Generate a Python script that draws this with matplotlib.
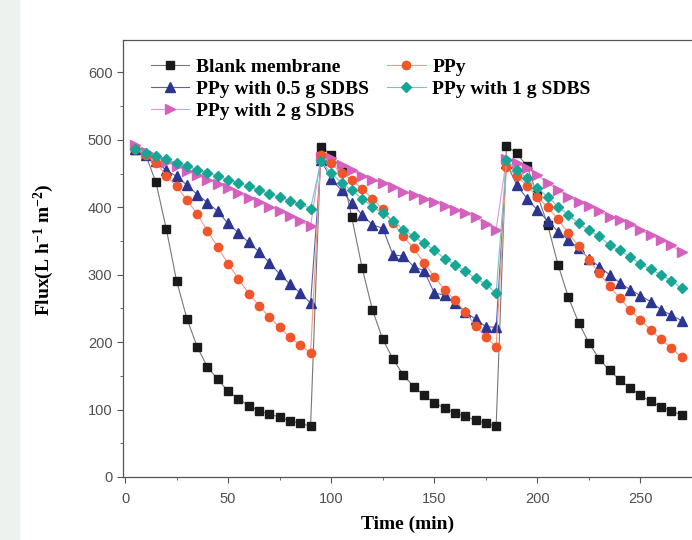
import numpy as np
import matplotlib
matplotlib.use('Agg')
import matplotlib.pyplot as plt
from matplotlib.patches import Rectangle

plt.rcParams['mathtext.default'] = 'regular'

# time axis: three filtration cycles, one reading every 5 min
time_min = [5, 10, 15, 20, 25, 30, 35, 40, 45, 50, 55, 60, 65, 70, 75, 80, 85, 90,
            95, 100, 105, 110, 115, 120, 125, 130, 135, 140, 145, 150, 155, 160, 165, 170, 175, 180,
            185, 190, 195, 200, 205, 210, 215, 220, 225, 230, 235, 240, 245, 250, 255, 260, 265, 270]

blank = [485, 478, 437, 368, 291, 235, 193, 163, 145, 127, 116, 106, 98, 93, 89, 83, 80, 75,
         490, 478, 455, 385, 310, 248, 204, 175, 151, 134, 121, 110, 102, 95, 90, 84, 80, 75,
         491, 480, 461, 418, 374, 315, 267, 229, 199, 175, 158, 144, 132, 121, 112, 104, 98, 92]

ppy = [486, 478, 466, 447, 431, 411, 390, 365, 341, 316, 294, 272, 254, 237, 222, 207, 196, 184,
       478, 465, 451, 441, 427, 413, 397, 377, 357, 339, 318, 297, 278, 262, 245, 224, 208, 193,
       460, 446, 432, 416, 400, 382, 362, 342, 322, 302, 283, 265, 248, 233, 218, 204, 191, 178]

sdbs_05 = [486, 478, 468, 455, 446, 433, 419, 407, 394, 376, 362, 348, 334, 318, 301, 286, 273, 258,
           470, 442, 425, 406, 389, 374, 369, 329, 328, 312, 306, 273, 270, 258, 245, 234, 223, 222,
           466, 433, 413, 396, 380, 364, 352, 339, 324, 312, 300, 288, 278, 269, 260, 248, 240, 232]

sdbs_1 = [487, 481, 476, 471, 466, 461, 456, 451, 446, 441, 436, 431, 426, 420, 415, 410, 405, 398,
          468, 451, 436, 425, 413, 401, 391, 380, 367, 357, 347, 336, 324, 315, 305, 295, 286, 273,
          470, 456, 443, 428, 416, 401, 389, 376, 366, 357, 344, 336, 326, 316, 308, 300, 291, 280]

sdbs_2 = [492, 482, 474, 467, 461, 454, 448, 441, 435, 428, 421, 414, 408, 401, 394, 387, 379, 372,
          475, 473, 463, 455, 446, 441, 436, 430, 423, 418, 413, 408, 402, 396, 391, 385, 375, 367,
          472, 465, 458, 448, 436, 426, 416, 408, 402, 394, 386, 381, 375, 366, 359, 352, 344, 333]

labels = ["Blank membrane", "PPy with 0.5 g SDBS", "PPy with 2 g SDBS", "PPy", "PPy with 1 g SDBS"]
series = [blank, sdbs_05, sdbs_2, ppy, sdbs_1]
colors = ["#1a1a1a", "#2c3590", "#d660bd", "#f0562a", "#17a596"]
line_colors = ["#777777", "#5a63b0", "#e39ad6", "#f49a80", "#6cc9c0"]
markers = ["s", "^", ">", "o", "D"]
msizes = [5.5, 6.5, 6.5, 6, 5]

fig = plt.figure(figsize=(6.92, 5.40), dpi=100)
fig.patches.append(Rectangle((0, 0), 0.028, 1, transform=fig.transFigure,
                             color="#eef2ee", zorder=-1))
ax = fig.add_axes([0.1777, 0.1167, 0.8223, 0.809])

for y, lab, c, lc, m, ms in zip(series, labels, colors, line_colors, markers, msizes):
    ax.plot(time_min, y, color=lc, lw=0.8, marker=m, ms=ms,
            markerfacecolor=c, markeredgecolor=c, label=lab)

ax.set_xlim(-1, 275)
ax.set_ylim(0, 648)
ax.set_xticks([0, 50, 100, 150, 200, 250])
ax.set_xticks(np.arange(25, 275, 50), minor=True)
ax.set_yticks(np.arange(0, 601, 100))
ax.set_yticks(np.arange(50, 601, 100), minor=True)
ax.tick_params(which='both', direction='out', color='#555555', labelcolor='#505050',
               labelsize=10.5)
ax.tick_params(axis='x', which='major', pad=7)
ax.tick_params(which='major', length=4)
ax.tick_params(which='minor', length=2.5)
for lbl in ax.get_xticklabels() + ax.get_yticklabels():
    lbl.set_family('Liberation Sans')
ax.spines['right'].set_visible(False)
for s in ['left', 'bottom', 'top']:
    ax.spines[s].set_color('#555555')
    ax.spines[s].set_linewidth(0.9)

ax.set_xlabel("Time (min)", family='Liberation Serif', weight='bold', fontsize=14, labelpad=7)
ax.set_ylabel("Flux(L h$^{-1}$ m$^{-2}$)", family='Liberation Serif',
              weight='bold', fontsize=14)
ax.yaxis.set_label_coords(-0.118, 0.52)

ax.legend(ncol=2, loc='upper left', bbox_to_anchor=(0.028, 0.985), frameon=False,
          prop={'family': 'Liberation Serif', 'weight': 'bold', 'size': 14},
          handlelength=2.0, handletextpad=0.35, columnspacing=0.9, labelspacing=0.22,
          borderaxespad=0.2)

plt.savefig("out.png", dpi=100)
plt.close()
